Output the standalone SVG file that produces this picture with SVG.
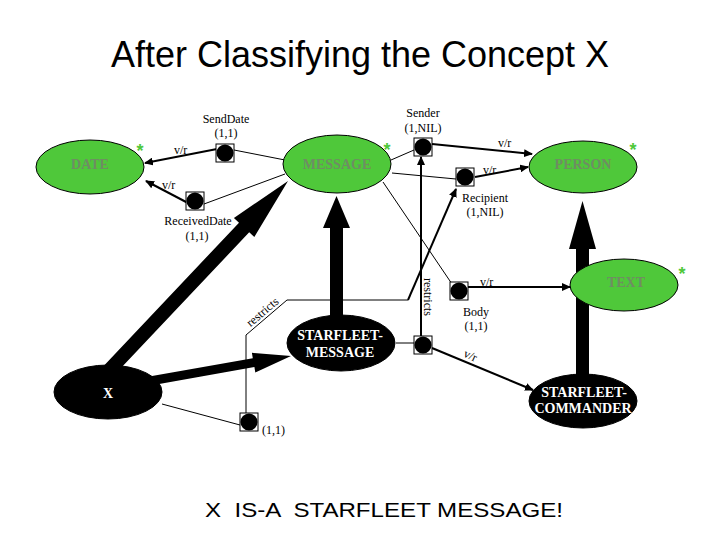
<svg xmlns="http://www.w3.org/2000/svg" width="720" height="540" viewBox="0 0 720 540">
<style>
.title{font-family:"Liberation Sans",Arial,sans-serif;font-size:36px;fill:#000}
.foot{font-family:"Liberation Sans",Arial,sans-serif;font-size:21px;fill:#000}
.g{fill:#4fc83a;stroke:#000;stroke-width:1}
.b{fill:#000;stroke:#000;stroke-width:1}
.gl{font-family:"Liberation Serif","Times New Roman",serif;font-size:14px;font-weight:bold;fill:#6f8d63;text-anchor:middle}
.wl{font-family:"Liberation Serif","Times New Roman",serif;font-size:14px;font-weight:bold;fill:#fff;text-anchor:middle}
.sl{font-family:"Liberation Serif","Times New Roman",serif;font-size:12px;fill:#000}
.c{text-anchor:middle}
.ast{font-family:"Liberation Sans",Arial,sans-serif;font-size:18px;font-weight:bold;fill:#4fc83a;text-anchor:middle}
.thin{fill:none;stroke:#000;stroke-width:1}
.arr{fill:none;stroke:#000;stroke-width:2;marker-end:url(#ah)}
.fat{fill:#000;stroke:none}
</style>
<defs>
<marker id="ah" markerWidth="10" markerHeight="8" refX="8" refY="4" orient="auto" markerUnits="userSpaceOnUse">
<path d="M0,0 L9,4 L0,8 z" fill="#000"/>
</marker>
<g id="sq"><rect x="-9" y="-9" width="18" height="18" fill="#fff" stroke="#000" stroke-width="1"/><circle cx="0" cy="0" r="8.6" fill="#000"/></g>
</defs>

<text class="title" x="360" y="67" text-anchor="middle">After Classifying the Concept X</text>

<g id="connectors">
<!-- thin relation lines -->
<line class="thin" x1="234" y1="150" x2="285" y2="160"/>
<line class="thin" x1="204" y1="204" x2="285" y2="174"/>
<line class="thin" x1="391" y1="160" x2="414" y2="150"/>
<line class="thin" x1="392" y1="173" x2="456" y2="179"/>
<line class="thin" x1="383" y1="182" x2="452" y2="284"/>
<line class="thin" x1="396" y1="343" x2="414" y2="343"/>
<line class="thin" x1="162" y1="404" x2="240" y2="425"/>
<polyline class="thin" points="246,413 246,335 287,300 408,300"/>
<!-- v/r arrows -->
<line class="arr" x1="217" y1="149" x2="145" y2="163"/>
<line class="arr" x1="188" y1="203" x2="146" y2="181"/>
<line class="arr" x1="432" y1="144" x2="532" y2="154"/>
<line class="arr" x1="475" y1="177" x2="528" y2="167"/>
<line class="arr" x1="468" y1="287" x2="570" y2="287"/>
<line class="arr" x1="432" y1="348" x2="533" y2="390"/>
<line class="arr" x1="421" y1="336" x2="421" y2="157"/>
<line class="arr" x1="408" y1="300" x2="456" y2="189"/>
<!-- fat IS-A arrows -->
<polygon class="fat" points="105.1,384.8 249.2,232.3 254.3,237.1 288,181 233.9,217.9 239,222.7 94.9,375.2"/>
<polygon class="fat" points="150.8,385.4 254.4,367 255.3,372.4 291,356 251.9,352.8 252.8,358.2 149.2,376.6"/>
<polygon class="fat" points="330,318 330,228 323,228 336.5,196 350,228 343,228 343,318"/>
<polygon class="fat" points="576,378 576,249 569,249 582.5,201 596,249 589,249 589,378"/>
<!-- connector labels -->
<text class="sl" x="174" y="154">v/r</text>
<text class="sl" x="162" y="189">v/r</text>
<text class="sl" x="498" y="147">v/r</text>
<text class="sl" x="483" y="174">v/r</text>
<text class="sl" x="480" y="286">v/r</text>
<text class="sl" x="463" y="359" transform="rotate(25 469 357)">v/r</text>
<text class="sl" x="424" y="278" transform="rotate(90 424 278)">restricts</text>
<text class="sl c" x="265" y="315" transform="rotate(-40.5 265 315)">restricts</text>
</g>

<g id="date">
<ellipse class="g" cx="90" cy="167" rx="54" ry="27"/>
<text class="gl" x="90" y="169">DATE</text>
<text class="ast" x="140" y="157">*</text>
</g>
<g id="message">
<ellipse class="g" cx="337" cy="164" rx="54" ry="29"/>
<text class="gl" x="337" y="169">MESSAGE</text>
<text class="ast" x="387" y="156">*</text>
</g>
<g id="person">
<ellipse class="g" cx="583" cy="167" rx="54" ry="26"/>
<text class="gl" x="583" y="169">PERSON</text>
<text class="ast" x="633" y="156">*</text>
</g>
<g id="text">
<ellipse class="g" cx="624" cy="285" rx="54" ry="26"/>
<text class="gl" x="626" y="287">TEXT</text>
<text class="ast" x="682" y="280">*</text>
</g>
<g id="starfleet-message">
<ellipse class="b" cx="341" cy="343" rx="54" ry="28"/>
<text class="wl" x="340" y="340">STARFLEET-</text>
<text class="wl" x="340" y="357">MESSAGE</text>
</g>
<g id="starfleet-commander">
<ellipse class="b" cx="583" cy="401" rx="54" ry="27"/>
<text class="wl" x="584" y="397">STARFLEET-</text>
<text class="wl" x="583" y="413">COMMANDER</text>
</g>
<g id="x">
<ellipse class="b" cx="108" cy="392" rx="54" ry="27"/>
<text class="wl" x="108" y="398">X</text>
</g>

<g id="senddate">
<use href="#sq" x="225" y="153"/>
<text class="sl c" x="226" y="123">SendDate</text>
<text class="sl c" x="226" y="137">(1,1)</text>
</g>
<g id="receiveddate">
<use href="#sq" x="195" y="201"/>
<text class="sl c" x="198" y="225">ReceivedDate</text>
<text class="sl c" x="197" y="240">(1,1)</text>
</g>
<g id="sender">
<use href="#sq" x="423" y="147"/>
<text class="sl c" x="423" y="117">Sender</text>
<text class="sl c" x="423" y="132">(1,NIL)</text>
</g>
<g id="recipient">
<use href="#sq" x="465" y="177"/>
<text class="sl c" x="485" y="202">Recipient</text>
<text class="sl c" x="485" y="216">(1,NIL)</text>
</g>
<g id="body">
<use href="#sq" x="459" y="291"/>
<text class="sl c" x="476" y="316">Body</text>
<text class="sl c" x="476" y="330">(1,1)</text>
</g>
<g id="restrict-square">
<use href="#sq" x="423" y="345"/>
</g>
<g id="x-square">
<use href="#sq" x="249" y="422"/>
<text class="sl" x="262" y="434">(1,1)</text>
</g>

<text class="foot" x="205" y="517" xml:space="preserve" textLength="358" lengthAdjust="spacingAndGlyphs">X  IS-A  STARFLEET MESSAGE!</text>
</svg>
